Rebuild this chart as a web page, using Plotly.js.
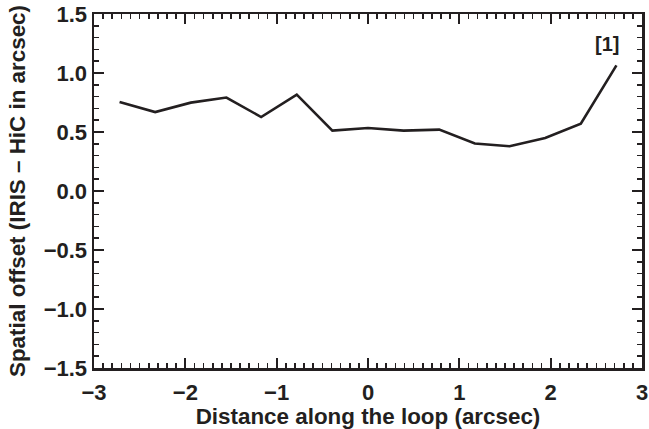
<!DOCTYPE html>
<html>
<head>
<meta charset="utf-8">
<script src="https://cdn.plot.ly/plotly-3.0.1.min.js"></script>
<style>html,body{margin:0;padding:0;background:#fff;}#chart{width:649px;height:429px;}</style>
</head>
<body>
<div id="chart"></div>
<script>
// Distance along the loop (arcsec)
const distance = [-2.72, -2.33, -1.94, -1.55, -1.17, -0.78, -0.39, 0.0, 0.39, 0.78, 1.17, 1.55, 1.94, 2.33, 2.72];
// Spatial offset IRIS - HiC (arcsec)
const offset = [0.754, 0.669, 0.749, 0.792, 0.627, 0.817, 0.512, 0.534, 0.512, 0.520, 0.402, 0.379, 0.449, 0.571, 1.065];
const xTickVals = [-3, -2, -1, 0, 1, 2, 3];
const xTickText = ['\u22123', '\u22122', '\u22121', '0', '1', '2', '3'];
const yTickVals = [-1.5, -1.0, -0.5, 0.0, 0.5, 1.0, 1.5];
const yTickText = ['\u22121.5', '\u22121.0', '\u22120.5', '0.0', '0.5', '1.0', '1.5'];
const labelText = '[1]';

const fontFam = '"Liberation Sans", Arial, Helvetica, sans-serif';
const ink = '#231f20';

const trace = {
  x: distance, y: offset, type: 'scatter', mode: 'lines',
  line: {color: ink, width: 2.6},
  hoverinfo: 'skip'
};
// empty trace that only registers the label-carrying companion x axis
const labelAxisTrace = {
  x: [], y: [], xaxis: 'x2', yaxis: 'y', type: 'scatter', mode: 'lines',
  hoverinfo: 'skip', showlegend: false
};

const axisCommon = {
  showgrid: false, zeroline: false, showline: true, linecolor: ink, linewidth: 2.5,
  mirror: 'ticks', ticks: 'inside', ticklen: 10, tickwidth: 2.2, tickcolor: ink,
  tickfont: {family: fontFam, size: 22, color: ink, weight: 'bold'},
  tickmode: 'array'
};

const layout = {
  width: 649, height: 429,
  margin: {l: 94, r: 7, t: 14, b: 61},
  paper_bgcolor: '#fff', plot_bgcolor: '#fff',
  showlegend: false,
  xaxis: Object.assign({}, axisCommon, {
    range: [-3, 3], tickvals: xTickVals, ticktext: xTickText,
    showticklabels: false,
    minor: {ticks: 'inside', dtick: 0.1, tick0: 0, ticklen: 5, tickwidth: 1.6, tickcolor: ink}
  }),
  // label-only companion axis: carries the x tick labels (set slightly lower) and the x title
  xaxis2: {
    overlaying: 'x', anchor: 'y', side: 'bottom', range: [-3, 3],
    showgrid: false, zeroline: false, showline: false,
    tickmode: 'array', tickvals: xTickVals, ticktext: xTickText,
    ticks: 'outside', ticklen: 5, tickwidth: 0, tickcolor: 'rgba(0,0,0,0)',
    tickfont: {family: fontFam, size: 22, color: ink, weight: 'bold'},
    title: {text: 'Distance along the loop (arcsec)', font: {family: fontFam, size: 22.4, color: ink, weight: 'bold'}, standoff: 1}
  },
  yaxis: Object.assign({}, axisCommon, {
    range: [-1.5, 1.5], tickvals: yTickVals, ticktext: yTickText,
    minor: {ticks: 'inside', dtick: 0.1, tick0: 0, ticklen: 5, tickwidth: 1.6, tickcolor: ink},
    title: {text: 'Spatial offset (IRIS \u2013 HiC in arcsec)', font: {family: fontFam, size: 22.4, color: ink, weight: 'bold'}, standoff: 12}
  }),
  annotations: [{
    x: 2.62, y: 1.25, xref: 'x', yref: 'y', text: labelText, showarrow: false,
    font: {family: fontFam, size: 20, color: ink, weight: 'bold'}
  }]
};

Plotly.newPlot('chart', [trace, labelAxisTrace], layout, {displayModeBar: false, staticPlot: true});
</script>
</body>
</html>
